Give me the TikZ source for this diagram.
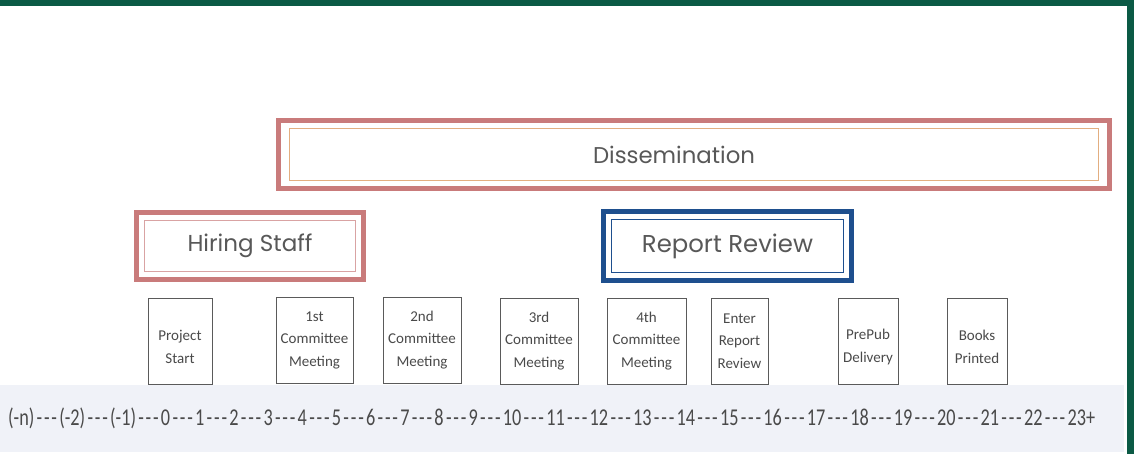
\documentclass[tikz,border=0pt]{standalone}
\usepackage{fontspec}
\usepackage{graphicx}
\newfontfamily\titlefont{Poppins}
\newfontfamily\boxfont{Carlito}
\definecolor{framegreen}{HTML}{0B5A45}
\definecolor{pinkc}{HTML}{C97B7B}
\definecolor{orangec}{HTML}{E3AE80}
\definecolor{bluec}{HTML}{1E4F8E}
\definecolor{textgray}{HTML}{4A4A4A}
\definecolor{titlegray}{HTML}{585858}
\definecolor{boxgray}{HTML}{5A5A5A}
\definecolor{bandc}{HTML}{F0F2F8}
\newcommand\tdash{\kern2.5pt-\kern2pt-\kern2pt-\kern2.5pt}
\tikzset{
  dblbox/.style n args={5}{draw=#1, line width=5pt, inner sep=0pt,
    text=titlegray, font=\titlefont,
    path picture={\draw[draw=#2, line width=#3]
      ([shift={(#4,-#5)}]path picture bounding box.north west) rectangle
      ([shift={(-#4,#5)}]path picture bounding box.south east);}},
  milestone/.style={draw=boxgray, line width=1pt, minimum height=86pt,
    inner sep=0pt, align=center, text=textgray,
    font=\boxfont\fontsize{15}{22.5}\selectfont},
}
\begin{document}
\begin{tikzpicture}[x=1pt,y=-1pt]
\useasboundingbox (0,0) rectangle (1134,454);
\fill[white] (0,0) rectangle (1134,454);
\fill[bandc] (0,385) rectangle (1124,452);
\fill[framegreen] (0,0) rectangle (1134,6);
\fill[framegreen] (1127,0) rectangle (1134,454);

\node[dblbox={pinkc}{orangec}{1pt}{11pt}{8pt}, minimum width=831pt, minimum height=68pt]
  (dissem) at (694,154.5) {\hspace*{-40pt}\resizebox{162pt}{!}{Dissemination}};
\node[dblbox={pinkc}{pinkc!70}{0.8pt}{8pt}{8pt}, minimum width=227pt, minimum height=67pt]
  (hiring) at (250,246) {\resizebox{125pt}{!}{Hiring Staff}};
\node[dblbox={bluec}{bluec}{1.2pt}{8pt}{8pt}, minimum width=248pt, minimum height=69pt]
  (review) at (727.5,246) {\resizebox{171pt}{!}{Report Review}};

\node[milestone, minimum width=64pt] (m0) at (180,341) {\mbox{}\\Project\\Start};
\node[milestone, minimum width=77pt] (m1) at (314.5,340) {1st\\Committee\\Meeting};
\node[milestone, minimum width=78pt] (m2) at (422,340) {2nd\\Committee\\Meeting};
\node[milestone, minimum width=78pt] (m3) at (539,341) {3rd\\Committee\\Meeting};
\node[milestone, minimum width=79pt] (m4) at (646.5,341) {4th\\Committee\\Meeting};
\node[milestone, minimum width=57pt] (m5) at (739.5,341) {Enter\\Report\\Review};
\node[milestone, minimum width=60pt] (m6) at (868,341) {\mbox{}\\PrePub\\Delivery};
\node[milestone, minimum width=60pt] (m7) at (977,341) {\mbox{}\\Books\\Printed};

\node[inner sep=0pt, text=textgray, anchor=west] (timeline) at (8,418)
  {\resizebox*{1087pt}{21pt}{\boxfont\fontsize{20}{24}\selectfont
   (-n)\tdash(-2)\tdash(-1)\tdash0\tdash1\tdash2\tdash3\tdash4\tdash5\tdash6\tdash7\tdash8\tdash9\tdash10\tdash11\tdash12\tdash13\tdash14\tdash15\tdash16\tdash17\tdash18\tdash19\tdash20\tdash21\tdash22\tdash23+}};
\end{tikzpicture}
\end{document}
